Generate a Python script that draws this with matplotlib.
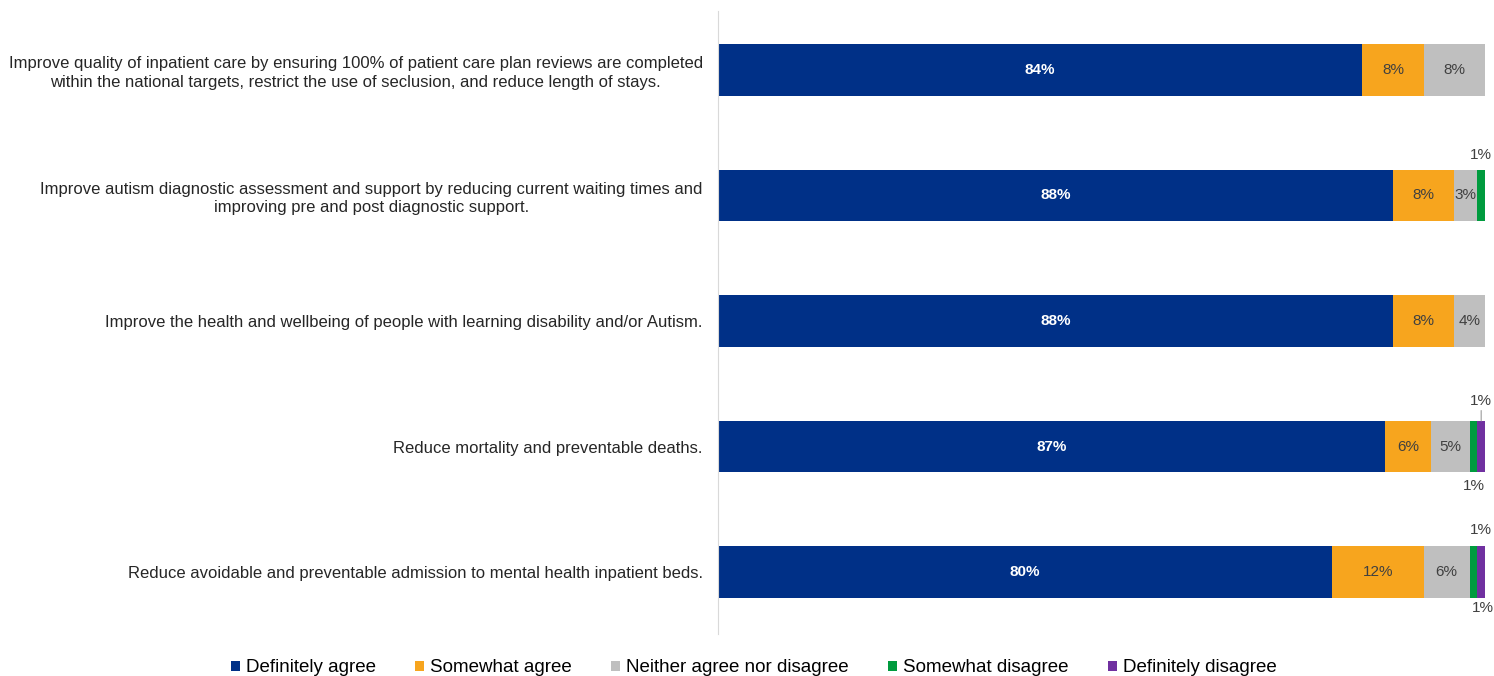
import matplotlib.pyplot as plt
import numpy as np

plt.rcParams['font.family'] = ['Liberation Sans', 'DejaVu Sans']

categories = [
    "Improve quality of inpatient care by ensuring 100% of patient care plan reviews are completed\nwithin the national targets, restrict the use of seclusion, and reduce length of stays.",
    "Improve autism diagnostic assessment and support by reducing current waiting times and\nimproving pre and post diagnostic support.",
    "Improve the health and wellbeing of people with learning disability and/or Autism.",
    "Reduce mortality and preventable deaths.",
    "Reduce avoidable and preventable admission to mental health inpatient beds.",
]
series_names = ["Definitely agree", "Somewhat agree", "Neither agree nor disagree",
                "Somewhat disagree", "Definitely disagree"]
definitely_agree = [84, 88, 88, 87, 80]
somewhat_agree = [8, 8, 8, 6, 12]
neither = [8, 3, 4, 5, 6]
somewhat_disagree = [0, 1, 0, 1, 1]
definitely_disagree = [0, 0, 0, 1, 1]

colors = ["#003087", "#F7A51E", "#BFBFBF", "#009B3E", "#7030A0"]

# slim segments get their label outside the bar: (row, series) -> (dx, dy in pixels, leader line)
outside = {
    (1, 3): (0, 40, False),
    (3, 4): (0, 46, True),
    (3, 3): (0, -39, False),
    (4, 4): (0, 42, False),
    (4, 3): (9, -36, False),
}

data = np.array([definitely_agree, somewhat_agree, neither,
                 somewhat_disagree, definitely_disagree], dtype=float)

fig = plt.figure(figsize=(14.94, 6.76), dpi=100)
ax = fig.add_axes([0.4806, 0.0607, 0.5134, 0.929])

bar_h = 0.41
y = np.arange(len(categories))
left = np.zeros(len(categories))
for i, (name, vals) in enumerate(zip(series_names, data)):
    ax.barh(y, vals, left=left, height=bar_h, color=colors[i], label=name)
    for j, v in enumerate(vals):
        if v <= 0:
            continue
        cx = left[j] + v / 2
        if (j, i) in outside:
            dx, dy, leader = outside[(j, i)]
            if leader:
                # anchor at the top edge of the bar and draw a thin connector
                ax.annotate(f"{v:.0f}%", xy=(cx, y[j] - bar_h / 2),
                            xytext=(dx, dy - 26), textcoords='offset pixels',
                            ha='center', va='center', color='#404040', fontsize=11,
                            arrowprops=dict(arrowstyle='-', color='#A6A6A6', lw=0.9,
                                            shrinkA=0, shrinkB=0))
            else:
                ax.annotate(f"{v:.0f}%", xy=(cx, y[j]),
                            xytext=(dx, dy), textcoords='offset pixels',
                            ha='center', va='center', color='#404040', fontsize=11)
        elif i == 0:
            ax.text(cx, y[j], f"{v:.0f}%", ha='center', va='center',
                    color='white', fontsize=11, fontweight='bold')
        else:
            ax.text(cx, y[j], f"{v:.0f}%", ha='center', va='center',
                    color='#404040', fontsize=11)
    left += vals

ax.set_ylim(len(categories) - 0.5, -0.5)
ax.set_xlim(0, 100)
ax.set_yticks(y)
ax.set_yticklabels(categories, fontsize=12, color='#262626',
                   multialignment='center', linespacing=1.3)
ax.tick_params(axis='y', length=0, pad=11)
ax.set_xticks([])
for s in ['top', 'right', 'bottom']:
    ax.spines[s].set_visible(False)
ax.spines['left'].set_color('#D9D9D9')
ax.spines['left'].set_bounds(-0.47, 4.49)

fig.legend(loc='center', bbox_to_anchor=(0.5047, 0.012), ncol=5, frameon=False,
           fontsize=13.5, handlelength=0.48, handleheight=0.48, handletextpad=0.32,
           columnspacing=2.1, borderpad=0)

fig.savefig('out.png', dpi=100)
